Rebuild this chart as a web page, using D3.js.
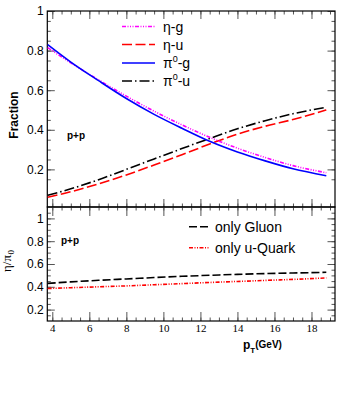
<!DOCTYPE html>
<html>
<head>
<meta charset="utf-8">
<script src="https://cdn.jsdelivr.net/npm/d3@7"></script>
<style>
  body { margin: 0; background: #fff; }
  text { font-family: "Liberation Sans", Arial, sans-serif; }
  .axis path { display: none; }
  .axis line { stroke: #555; stroke-width: 1; }
</style>
</head>
<body>
<div id="chart"></div>
<script>
// pT values (GeV) where the curves were read
var pt = [3.75, 5, 6.5, 8, 9.5, 11, 12.5, 14, 15.5, 17, 18.8];

// top panel: fractions
var etaG = [0.815, 0.738, 0.652, 0.570, 0.494, 0.425, 0.362, 0.307, 0.260, 0.219, 0.183];
var etaU = [0.059, 0.087, 0.127, 0.172, 0.222, 0.274, 0.328, 0.378, 0.418, 0.452, 0.500];
var pi0G = [0.830, 0.742, 0.648, 0.558, 0.478, 0.408, 0.342, 0.288, 0.243, 0.203, 0.168];
var pi0U = [0.069, 0.102, 0.148, 0.200, 0.253, 0.305, 0.356, 0.405, 0.446, 0.481, 0.514];

// bottom panel: eta/pi0 ratio
var onlyGluon = [0.430, 0.443, 0.457, 0.469, 0.481, 0.492, 0.501, 0.509, 0.516, 0.521, 0.527];
var onlyUQuark = [0.385, 0.392, 0.400, 0.408, 0.418, 0.428, 0.438, 0.447, 0.456, 0.465, 0.478];

var xTicks = [4, 6, 8, 10, 12, 14, 16, 18];
var yTopTicks = [0.2, 0.4, 0.6, 0.8, 1];
var yBotTicks = [0.2, 0.4, 0.6, 0.8, 1];

var serif = '"Liberation Serif", "Times New Roman", serif';

var svgWidth = 346, svgHeight = 415;
var left = 47.3, right = 335;

var svg = d3.select("#chart").append("svg")
  .attr("width", svgWidth)
  .attr("height", svgHeight);

svg.append("rect").attr("width", svgWidth).attr("height", svgHeight).attr("fill", "#fff");

var x = d3.scaleLinear().domain([3.73, 19.27]).range([left, right]);
var yTop = d3.scaleLinear().domain([0.01, 1]).range([207, 11]);
var yBot = d3.scaleLinear().domain([0.1, 1.1]).range([321, 207]);

var xMinor = d3.range(4, 19.3, 0.5);
var yMinor = d3.range(0.15, 1.1, 0.05).map(function(v) { return +v.toFixed(2); });

// draw the frame + inward ticks on all 4 sides of a panel
function panelAxes(y, top, bottom, yMinorVals, yMajor, xMajLen, showX) {
  function add(axisFn, scale, vals, len, tr, fmt) {
    return svg.append("g")
      .attr("class", "axis")
      .attr("transform", tr)
      .call(axisFn(scale).tickValues(vals).tickSizeInner(-len).tickSizeOuter(0)
        .tickPadding(3.5).tickFormat(fmt || ""));
  }
  // x minor / major, bottom and top
  add(d3.axisBottom, x, xMinor, 3.5, "translate(0," + bottom + ")");
  var xb = add(d3.axisBottom, x, xTicks, xMajLen, "translate(0," + bottom + ")",
    showX ? d3.format("d") : "");
  xb.selectAll("text").attr("font-size", 11).attr("fill", "#000")
    .style("font-family", serif);
  add(d3.axisTop, x, xMinor, 3.5, "translate(0," + top + ")");
  add(d3.axisTop, x, xTicks, xMajLen, "translate(0," + top + ")");
  // y minor / major, left and right
  add(d3.axisLeft, y, yMinorVals, 3.5, "translate(" + left + ",0)");
  var yl = add(d3.axisLeft, y, yMajor, 7.5, "translate(" + left + ",0)", function(d) { return d === 1 ? "1" : d3.format(".1f")(d); });
  yl.selectAll("text").attr("font-size", 12).attr("fill", "#000");
  add(d3.axisRight, y, yMinorVals, 3.5, "translate(" + right + ",0)");
  add(d3.axisRight, y, yMajor, 7.5, "translate(" + right + ",0)");
  svg.append("rect")
    .attr("x", left).attr("y", top)
    .attr("width", right - left).attr("height", bottom - top)
    .attr("fill", "none").attr("stroke", "#000").attr("stroke-width", 1.2);
}

panelAxes(yTop, 11, 207, yMinor.filter(function(v) { return v <= 1; }), yTopTicks, 8, false);
panelAxes(yBot, 207, 321, yMinor, yBotTicks, 9, true);

function drawLine(scale, vals, color, dash, w) {
  var line = d3.line()
    .x(function(d, i) { return x(pt[i]); })
    .y(function(d) { return scale(d); })
    .curve(d3.curveMonotoneX);
  svg.append("path")
    .datum(vals)
    .attr("d", line)
    .attr("fill", "none")
    .attr("stroke", color)
    .attr("stroke-width", w || 1.6)
    .attr("stroke-dasharray", dash);
}

var dashEtaG = "4,1.5,1,1.5,1,1.5,1,1.5";
var dashEtaU = "10,3.5";
var dashPiU = "10,3,1.5,3";
var dashGluon = "8,3";
var dashUQ = "4,1.5,1,1.5,1,1.5";

drawLine(yTop, pi0U, "#000", dashPiU);
drawLine(yTop, etaU, "#ff0000", dashEtaU);
drawLine(yTop, etaG, "#ff00ff", dashEtaG);
drawLine(yTop, pi0G, "#0000ff", null);

drawLine(yBot, onlyGluon, "#000", dashGluon);
drawLine(yBot, onlyUQuark, "#ff0000", dashUQ);

// top legend
var legTop = [
  { main: "\u03b7", sup: null, rest: "-g", color: "#ff00ff", dash: dashEtaG, y: 26.5 },
  { main: "\u03b7", sup: null, rest: "-u", color: "#ff0000", dash: dashEtaU, y: 44.5 },
  { main: "\u03c0", sup: "0", rest: "-g", color: "#0000ff", dash: null, y: 63 },
  { main: "\u03c0", sup: "0", rest: "-u", color: "#000", dash: dashPiU, y: 81 }
];
legTop.forEach(function(e) {
  svg.append("line").attr("x1", 122).attr("x2", 155).attr("y1", e.y).attr("y2", e.y)
    .attr("stroke", e.color).attr("stroke-width", 1.6).attr("stroke-dasharray", e.dash);
  var t = svg.append("text").attr("x", 163).attr("y", e.y + 5).attr("font-size", 14);
  t.append("tspan").text(e.main);
  if (e.sup) {
    t.append("tspan").attr("dy", -6).attr("font-size", 9).text(e.sup);
    t.append("tspan").attr("dy", 6).text(e.rest);
  } else {
    t.append("tspan").text(e.rest);
  }
});

// bottom legend
var legBot = [
  { label: "only Gluon", color: "#000", dash: dashGluon, y: 226.7 },
  { label: "only u-Quark", color: "#ff0000", dash: dashUQ, y: 247.7 }
];
legBot.forEach(function(e) {
  svg.append("line").attr("x1", 189).attr("x2", 210).attr("y1", e.y).attr("y2", e.y)
    .attr("stroke", e.color).attr("stroke-width", 1.6).attr("stroke-dasharray", e.dash);
  svg.append("text").attr("x", 215).attr("y", e.y + 5).attr("font-size", 14).text(e.label);
});

// p+p labels
svg.append("text").attr("x", 67).attr("y", 139).attr("font-size", 10)
  .attr("font-weight", "bold").text("p+p");
svg.append("text").attr("x", 61).attr("y", 243.5).attr("font-size", 10)
  .attr("font-weight", "bold").text("p+p");

// axis titles
svg.append("text")
  .attr("transform", "translate(18,115) rotate(-90)")
  .attr("text-anchor", "middle")
  .attr("font-size", 12).attr("font-weight", "bold")
  .text("Fraction");

var yl2 = svg.append("text")
  .attr("transform", "translate(11,272) rotate(-90)")
  .style("font-family", serif)
  .attr("font-size", 13);
yl2.append("tspan").text("\u03b7/\u03c0");
yl2.append("tspan").attr("dy", 3).attr("dx", 0.5).attr("font-size", 9).text("0");

var xt = svg.append("text").attr("x", 243).attr("y", 349).attr("font-weight", "bold");
xt.append("tspan").attr("font-size", 12).text("p");
xt.append("tspan").attr("font-size", 8).attr("dy", 4).text("T");
xt.append("tspan").attr("font-size", 10).attr("dy", -5).text("(GeV)");
</script>
</body>
</html>
